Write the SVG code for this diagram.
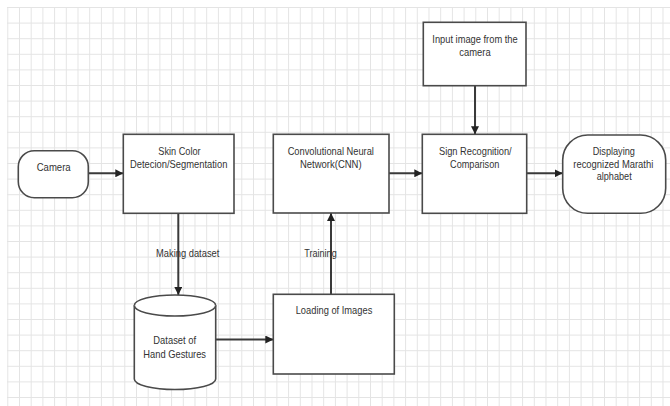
<svg xmlns="http://www.w3.org/2000/svg" width="670" height="406" viewBox="0 0 670 406">
<defs>
<pattern id="grid" x="7.3" y="7" width="11.7" height="15.6" patternUnits="userSpaceOnUse">
<path d="M0 0.5H11.7M0.5 0V15.6" stroke="#e4e4e4" stroke-width="1" fill="none"/>
</pattern>
<marker id="arr" markerWidth="8" markerHeight="8" viewBox="0 0 8 8" refX="8" refY="4" orient="auto" markerUnits="userSpaceOnUse">
<path d="M0 0L8 4L0 8Z" fill="#222"/>
</marker>
<style>
.shape{fill:#fff;stroke:#4a4a4a;stroke-width:1.6}
.conn{stroke:#3a3a3a;stroke-width:2;fill:none}
text{font-family:"Liberation Sans Narrow","Liberation Sans",Arial,sans-serif;font-size:11.5px;fill:#333;text-anchor:middle}
</style>
</defs>
<rect width="670" height="406" fill="#fff"/>
<rect x="7" y="7" width="663" height="399" fill="url(#grid)"/>

<g id="connectors">
<line class="conn" x1="88.3" y1="173.3" x2="123.3" y2="173.3" marker-end="url(#arr)"/>
<line class="conn" x1="389" y1="173.3" x2="422.3" y2="173.3" marker-end="url(#arr)"/>
<line class="conn" x1="526.7" y1="173.3" x2="562.7" y2="173.3" marker-end="url(#arr)"/>
<line class="conn" x1="475" y1="85.7" x2="475" y2="134.3" marker-end="url(#arr)"/>
<line class="conn" x1="178.3" y1="213.3" x2="178.3" y2="295" marker-end="url(#arr)"/>
<line class="conn" x1="215.7" y1="339.5" x2="273.3" y2="339.5" marker-end="url(#arr)"/>
<line class="conn" x1="331" y1="294.3" x2="331" y2="213" marker-end="url(#arr)"/>
<text x="187.7" y="256.7" textLength="63.3" lengthAdjust="spacingAndGlyphs">Making dataset</text>
<text x="320.5" y="256.7" textLength="32.4" lengthAdjust="spacingAndGlyphs">Training</text>
</g>

<g id="camera">
<rect class="shape" x="18.3" y="150.7" width="70" height="47" rx="16" ry="16"/>
<text x="53.7" y="171" textLength="34" lengthAdjust="spacingAndGlyphs">Camera</text>
</g>

<g id="skin">
<rect class="shape" x="123.3" y="134.3" width="110.7" height="79"/>
<text x="179.5" y="155" textLength="42.3" lengthAdjust="spacingAndGlyphs">Skin Color</text>
<text x="178.7" y="167.5" textLength="97.3" lengthAdjust="spacingAndGlyphs">Detecion/Segmentation</text>
</g>

<g id="cnn">
<rect class="shape" x="273.3" y="134.3" width="115.7" height="78.7"/>
<text x="330.8" y="155" textLength="86.3" lengthAdjust="spacingAndGlyphs">Convolutional Neural</text>
<text x="330.8" y="167.5" textLength="61.7" lengthAdjust="spacingAndGlyphs">Network(CNN)</text>
</g>

<g id="input">
<rect class="shape" x="423.3" y="22.3" width="102.7" height="63.4"/>
<text x="475" y="43.3" textLength="85.3" lengthAdjust="spacingAndGlyphs">Input image from the</text>
<text x="475" y="55.8" textLength="31.3" lengthAdjust="spacingAndGlyphs">camera</text>
</g>

<g id="sign">
<rect class="shape" x="422.3" y="134.3" width="104.4" height="79"/>
<text x="475.3" y="155" textLength="72.7" lengthAdjust="spacingAndGlyphs">Sign Recognition/</text>
<text x="474.7" y="167.5" textLength="49.3" lengthAdjust="spacingAndGlyphs">Comparison</text>
</g>

<g id="display">
<rect class="shape" x="562.7" y="135" width="103" height="78.3" rx="25" ry="25"/>
<text x="613.8" y="155" textLength="42.3" lengthAdjust="spacingAndGlyphs">Displaying</text>
<text x="613.3" y="167.5" textLength="80" lengthAdjust="spacingAndGlyphs">recognized Marathi</text>
<text x="614.2" y="180" textLength="35" lengthAdjust="spacingAndGlyphs">alphabet</text>
</g>

<g id="dataset">
<path class="shape" d="M134.3 305.5A40.7 10.5 0 0 1 215.7 305.5V379A40.7 10.5 0 0 1 134.3 379Z"/>
<path class="shape" d="M134.3 305.5A40.7 10.5 0 0 0 215.7 305.5" fill="none"/>
<text x="174.7" y="344.3" textLength="42.7" lengthAdjust="spacingAndGlyphs">Dataset of</text>
<text x="174.7" y="358.3" textLength="62.7" lengthAdjust="spacingAndGlyphs">Hand Gestures</text>
</g>

<g id="loading">
<rect class="shape" x="273.3" y="294.3" width="121" height="79.7"/>
<text x="334" y="314.3" textLength="76.6" lengthAdjust="spacingAndGlyphs">Loading of Images</text>
</g>
</svg>
